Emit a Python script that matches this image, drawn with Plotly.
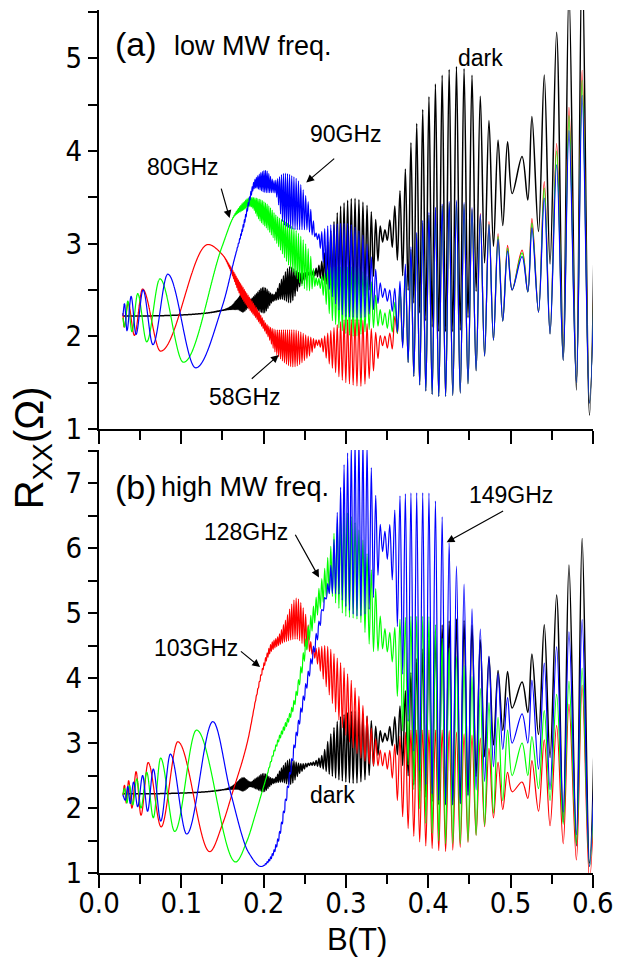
import numpy as np
import plotly.graph_objects as go

# ---------------- data ----------------
# SdH extrema positions (T) read at high field; below the last max the
# oscillation continues with the read period in 1/B.
SDH_MAX_B_HIGH = [0.607, 0.587, 0.571, 0.556, 0.541, 0.526, 0.514, 0.4964]
SDH_MIN_B_HIGH = [0.596, 0.580, 0.564, 0.548, 0.534, 0.521, 0.502]
SDH_PERIOD_INV_B = 0.048   # 1/T, read from the spacing of the SdH peaks
B_START = 0.029

# each curve: B knots, upper envelope, lower envelope (R_xx in Ohm)
DARK_B = [0.029, 0.06, 0.10, 0.13, 0.150, 0.160, 0.168, 0.175, 0.184, 0.190, 0.200, 0.212, 0.222, 0.232, 0.245, 0.258, 0.270, 0.282, 0.295, 0.310, 0.325, 0.337, 0.347, 0.357, 0.367, 0.383, 0.399, 0.415, 0.435, 0.451, 0.465, 0.475, 0.484, 0.4964, 0.502, 0.514, 0.521, 0.526, 0.534, 0.541, 0.549, 0.556, 0.564, 0.571, 0.580, 0.587, 0.596, 0.607]
DARK_UP = [2.22, 2.22, 2.23, 2.25, 2.28, 2.32, 2.40, 2.47, 2.40, 2.45, 2.53, 2.45, 2.62, 2.75, 2.68, 2.70, 2.80, 3.15, 3.42, 3.49, 3.42, 3.25, 3.15, 3.35, 3.61, 4.22, 4.55, 4.80, 4.91, 4.84, 4.55, 4.30, 4.12, 4.10, 3.90, 3.94, 4.10, 4.37, 4.60, 4.82, 5.05, 5.28, 5.50, 5.74, 5.95, 6.15, 6.40, 6.70]
DARK_LO = [2.22, 2.22, 2.23, 2.25, 2.28, 2.29, 2.29, 2.26, 2.33, 2.30, 2.25, 2.38, 2.40, 2.36, 2.55, 2.66, 2.62, 2.50, 2.42, 2.38, 2.45, 2.75, 3.05, 2.95, 2.70, 2.35, 2.15, 2.05, 2.05, 2.25, 2.72, 2.90, 3.05, 3.35, 3.54, 3.50, 3.47, 3.30, 3.13, 2.92, 2.75, 2.30, 1.78, 1.60, 1.42, 1.30, 1.15, 1.00]

F58_B = [0.029, 0.0305, 0.0355, 0.043, 0.0529, 0.0748, 0.1325, 0.150, 0.160, 0.170, 0.180, 0.192, 0.205, 0.216, 0.236, 0.255, 0.266, 0.280, 0.300, 0.318, 0.335, 0.345, 0.355, 0.363, 0.373, 0.383, 0.399, 0.415, 0.435, 0.451, 0.4626, 0.4726, 0.4845, 0.4964, 0.502, 0.514, 0.521, 0.526, 0.534, 0.541, 0.549, 0.556, 0.564, 0.571, 0.580, 0.587, 0.596, 0.607]
F58_UP = [2.25, 2.10, 2.36, 2.01, 2.51, 1.84, 2.99, 2.88, 2.75, 2.60, 2.46, 2.30, 2.12, 2.07, 2.07, 2.00, 1.96, 2.05, 2.18, 2.18, 2.05, 2.00, 2.05, 2.40, 2.75, 3.04, 3.29, 3.40, 3.45, 3.38, 3.33, 3.25, 3.11, 2.98, 2.85, 2.93, 3.05, 3.27, 3.45, 3.67, 3.88, 4.08, 4.28, 4.47, 4.68, 4.87, 5.05, 5.30]
F58_LO = [2.25, 2.10, 2.36, 2.01, 2.51, 1.84, 2.99, 2.88, 2.70, 2.47, 2.32, 2.18, 2.00, 1.80, 1.67, 1.78, 1.90, 1.70, 1.50, 1.46, 1.65, 1.90, 1.85, 2.03, 1.78, 1.56, 1.40, 1.35, 1.37, 1.52, 1.70, 1.85, 2.05, 2.30, 2.50, 2.49, 2.48, 2.40, 2.26, 2.14, 2.01, 1.88, 1.74, 1.62, 1.50, 1.40, 1.28, 1.15]

F80_B = [0.029, 0.031, 0.035, 0.040, 0.047, 0.058, 0.074, 0.1026, 0.150, 0.165, 0.175, 0.184, 0.195, 0.205, 0.216, 0.235, 0.255, 0.265, 0.285, 0.310, 0.330, 0.345, 0.355, 0.363, 0.373, 0.383, 0.399, 0.415, 0.435, 0.451, 0.4626, 0.4726, 0.4845, 0.4964, 0.502, 0.514, 0.521, 0.526, 0.534, 0.541, 0.549, 0.556, 0.564, 0.571, 0.580, 0.587, 0.596, 0.607]
F80_UP = [2.20, 2.10, 2.38, 2.05, 2.46, 1.94, 2.62, 1.72, 2.98, 3.32, 3.44, 3.50, 3.48, 3.42, 3.30, 3.18, 2.93, 2.62, 2.75, 2.75, 2.60, 2.25, 2.30, 2.45, 2.75, 3.04, 3.29, 3.40, 3.45, 3.38, 3.30, 3.22, 3.08, 2.95, 2.82, 2.90, 3.02, 3.22, 3.40, 3.60, 3.80, 4.00, 4.20, 4.38, 4.58, 4.76, 4.95, 5.20]
F80_LO = [2.20, 2.10, 2.38, 2.05, 2.46, 1.94, 2.62, 1.72, 2.98, 3.30, 3.36, 3.40, 3.25, 3.15, 3.00, 2.70, 2.49, 2.55, 2.15, 2.00, 2.08, 2.12, 2.05, 2.03, 1.78, 1.56, 1.40, 1.35, 1.37, 1.52, 1.70, 1.85, 2.05, 2.30, 2.50, 2.49, 2.48, 2.40, 2.26, 2.14, 2.01, 1.88, 1.74, 1.62, 1.50, 1.40, 1.28, 1.15]

F90_B = [0.029, 0.031, 0.034, 0.039, 0.045, 0.0535, 0.0655, 0.0835, 0.1175, 0.150, 0.165, 0.175, 0.190, 0.2025, 0.213, 0.225, 0.240, 0.252, 0.258, 0.265, 0.280, 0.300, 0.320, 0.335, 0.345, 0.355, 0.363, 0.373, 0.383, 0.399, 0.415, 0.435, 0.451, 0.4626, 0.4726, 0.4845, 0.4964, 0.502, 0.514, 0.521, 0.526, 0.534, 0.541, 0.549, 0.556, 0.564, 0.571, 0.580, 0.587, 0.596, 0.607]
F90_UP = [2.22, 2.35, 2.06, 2.43, 2.02, 2.50, 1.91, 2.67, 1.66, 2.33, 2.85, 3.20, 3.70, 3.79, 3.68, 3.76, 3.70, 3.50, 3.35, 3.10, 3.20, 3.22, 3.10, 2.75, 2.53, 2.50, 2.55, 2.80, 3.06, 3.32, 3.42, 3.47, 3.40, 3.32, 3.22, 3.05, 2.92, 2.80, 2.86, 2.98, 3.17, 3.33, 3.49, 3.67, 3.85, 4.03, 4.22, 4.42, 4.60, 4.80, 5.05]
F90_LO = [2.22, 2.35, 2.06, 2.43, 2.02, 2.50, 1.91, 2.67, 1.66, 2.33, 2.85, 3.15, 3.60, 3.55, 3.55, 3.20, 3.15, 3.15, 3.10, 3.05, 2.50, 2.21, 2.20, 2.30, 2.42, 2.30, 2.03, 1.78, 1.56, 1.40, 1.35, 1.37, 1.52, 1.70, 1.85, 2.05, 2.30, 2.50, 2.49, 2.48, 2.40, 2.26, 2.14, 2.01, 1.88, 1.74, 1.62, 1.50, 1.40, 1.28, 1.15]

F103_B = [0.029, 0.031, 0.033, 0.036, 0.040, 0.045, 0.051, 0.0597, 0.0755, 0.0958, 0.1345, 0.150, 0.162, 0.180, 0.192, 0.200, 0.210, 0.218, 0.225, 0.240, 0.252, 0.260, 0.275, 0.290, 0.305, 0.320, 0.335, 0.345, 0.355, 0.365, 0.380, 0.400, 0.420, 0.440, 0.460, 0.475, 0.490, 0.4964, 0.502, 0.514, 0.521, 0.526, 0.534, 0.541, 0.549, 0.556, 0.564, 0.571, 0.580, 0.587, 0.596, 0.607]
F103_UP = [2.20, 2.35, 2.08, 2.42, 2.00, 2.56, 1.89, 2.70, 1.71, 3.02, 1.33, 1.75, 2.23, 3.00, 3.78, 4.22, 4.55, 4.65, 4.85, 5.23, 4.95, 4.45, 4.50, 4.30, 4.00, 3.60, 3.10, 2.85, 2.90, 3.10, 3.20, 3.20, 3.20, 3.15, 3.10, 2.90, 2.62, 2.55, 2.42, 2.40, 2.55, 2.73, 2.90, 3.05, 3.18, 3.27, 3.42, 3.60, 3.75, 3.89, 4.00, 4.30]
F103_LO = [2.20, 2.35, 2.08, 2.42, 2.00, 2.56, 1.89, 2.70, 1.71, 3.02, 1.33, 1.75, 2.23, 3.00, 3.75, 4.15, 4.42, 4.50, 4.55, 4.60, 4.45, 4.35, 3.90, 3.40, 3.00, 2.75, 2.65, 2.65, 2.50, 2.00, 1.60, 1.40, 1.33, 1.40, 1.60, 1.80, 1.97, 2.10, 2.25, 2.20, 2.15, 2.05, 1.95, 1.85, 1.71, 1.60, 1.45, 1.30, 1.20, 1.05, 0.90, 0.80]

F128_B = [0.029, 0.031, 0.034, 0.037, 0.041, 0.046, 0.051, 0.058, 0.066, 0.0748, 0.092, 0.1185, 0.166, 0.180, 0.190, 0.200, 0.215, 0.236, 0.256, 0.270, 0.280, 0.290, 0.300, 0.315, 0.335, 0.345, 0.355, 0.365, 0.380, 0.400, 0.420, 0.440, 0.460, 0.475, 0.490, 0.4964, 0.502, 0.514, 0.521, 0.526, 0.534, 0.541, 0.549, 0.556, 0.564, 0.571, 0.580, 0.587, 0.596, 0.607]
F128_UP = [2.20, 2.30, 2.08, 2.35, 2.05, 2.45, 2.00, 2.55, 1.85, 2.77, 1.64, 3.20, 1.17, 1.50, 1.90, 2.33, 2.98, 3.62, 4.90, 5.50, 5.95, 6.40, 6.55, 6.30, 5.45, 4.80, 4.70, 4.90, 4.95, 4.95, 4.55, 4.25, 3.90, 3.60, 3.30, 3.20, 3.05, 3.00, 3.05, 3.10, 3.30, 3.50, 3.62, 3.75, 3.85, 3.95, 4.05, 4.15, 4.25, 4.50]
F128_LO = [2.20, 2.30, 2.08, 2.35, 2.05, 2.45, 2.00, 2.55, 1.85, 2.77, 1.64, 3.20, 1.17, 1.50, 1.90, 2.33, 2.92, 3.50, 4.60, 5.10, 5.30, 5.10, 4.95, 4.90, 4.40, 4.45, 4.30, 3.50, 2.40, 1.70, 1.45, 1.45, 1.60, 1.85, 2.10, 2.30, 2.50, 2.55, 2.50, 2.45, 2.30, 2.20, 2.10, 1.90, 1.75, 1.60, 1.45, 1.35, 1.10, 0.90]

F149_B = [0.029, 0.032, 0.035, 0.038, 0.042, 0.047, 0.053, 0.059, 0.066, 0.075, 0.0867, 0.1066, 0.1384, 0.160, 0.182, 0.197, 0.207, 0.216, 0.240, 0.264, 0.280, 0.290, 0.300, 0.315, 0.325, 0.335, 0.345, 0.355, 0.365, 0.380, 0.400, 0.415, 0.425, 0.435, 0.445, 0.455, 0.465, 0.475, 0.485, 0.4964, 0.502, 0.514, 0.521, 0.526, 0.541, 0.556, 0.571, 0.587, 0.596, 0.607]
F149_UP = [2.20, 2.12, 2.33, 2.07, 2.40, 2.02, 2.50, 1.95, 2.60, 1.80, 2.83, 1.60, 3.33, 2.23, 1.31, 1.10, 1.22, 1.48, 3.20, 4.70, 5.60, 6.60, 7.40, 7.70, 7.60, 6.90, 6.25, 6.40, 6.80, 6.85, 6.85, 6.55, 6.10, 5.70, 5.40, 5.00, 4.70, 4.30, 4.07, 3.70, 3.50, 3.45, 3.70, 3.97, 4.23, 4.48, 4.71, 4.90, 5.00, 5.30]
F149_LO = [2.20, 2.12, 2.33, 2.07, 2.40, 2.02, 2.50, 1.95, 2.60, 1.80, 2.83, 1.60, 3.33, 2.23, 1.31, 1.10, 1.18, 1.40, 3.05, 4.50, 5.30, 5.30, 5.10, 4.95, 5.00, 5.30, 5.95, 5.60, 4.50, 3.00, 2.30, 2.10, 2.05, 2.05, 2.15, 2.25, 2.35, 2.55, 2.75, 3.00, 3.00, 3.10, 3.00, 2.80, 2.45, 2.10, 1.80, 1.40, 1.10, 0.90]

X_TICKS = [0.0, 0.1, 0.2, 0.3, 0.4, 0.5, 0.6]
YA_TICKS = [1, 2, 3, 4, 5]
YB_TICKS = [1, 2, 3, 4, 5, 6, 7]


# ---------------- helpers ----------------
def pchip(xk, yk, x):
    xk = np.asarray(xk, float)
    yk = np.asarray(yk, float)
    h = np.diff(xk)
    delta = np.diff(yk) / h
    n = len(xk)
    d = np.zeros(n)
    for i in range(1, n - 1):
        if delta[i - 1] * delta[i] > 0:
            w1 = 2 * h[i] + h[i - 1]
            w2 = h[i] + 2 * h[i - 1]
            d[i] = (w1 + w2) / (w1 / delta[i - 1] + w2 / delta[i])
    d[0] = delta[0]
    d[-1] = delta[-1]
    idx = np.clip(np.searchsorted(xk, x) - 1, 0, n - 2)
    t = (x - xk[idx]) / h[idx]
    h00 = 2 * t**3 - 3 * t**2 + 1
    h10 = t**3 - 2 * t**2 + t
    h01 = -2 * t**3 + 3 * t**2
    h11 = t**3 - t**2
    return h00 * yk[idx] + h10 * h[idx] * d[idx] + h01 * yk[idx + 1] + h11 * h[idx] * d[idx + 1]


def sdh_extrema():
    u0 = 1.0 / SDH_MAX_B_HIGH[-1]
    n = int((1.0 / B_START - u0) / SDH_PERIOD_INV_B) + 2
    k = np.arange(1, n)
    mx = 1.0 / (u0 + k * SDH_PERIOD_INV_B)
    mn = 1.0 / (u0 + (k - 0.5) * SDH_PERIOD_INV_B)
    xs = np.concatenate([SDH_MAX_B_HIGH, SDH_MIN_B_HIGH, mx, mn])
    flag = np.concatenate([np.ones(len(SDH_MAX_B_HIGH)), np.zeros(len(SDH_MIN_B_HIGH)),
                           np.ones(len(mx)), np.zeros(len(mn))]).astype(bool)
    o = np.argsort(xs)
    return xs[o], flag[o]


EXT_B, EXT_MAX = sdh_extrema()


def curve(bk, up, lo):
    sel = (EXT_B >= bk[0]) & (EXT_B <= bk[-1])
    x = EXT_B[sel]
    m = EXT_MAX[sel]
    y = np.where(m, pchip(bk, up, x), pchip(bk, lo, x))
    x = np.concatenate([[bk[0]], x])
    y = np.concatenate([[up[0]], y])
    return x, y


fig = go.Figure()

panels = [
    ("x", "y", [(DARK_B, DARK_UP, DARK_LO, "black", 1.5),
                (F58_B, F58_UP, F58_LO, "#ff0000", 1.2),
                (F80_B, F80_UP, F80_LO, "#00ff00", 1.2),
                (F90_B, F90_UP, F90_LO, "#0000ff", 1.2)]),
    ("x2", "y2", [(DARK_B, DARK_UP, DARK_LO, "black", 1.5),
                  (F103_B, F103_UP, F103_LO, "#ff0000", 1.2),
                  (F128_B, F128_UP, F128_LO, "#00ff00", 1.2),
                  (F149_B, F149_UP, F149_LO, "#0000ff", 1.2)]),
]
for xa, ya, curves in panels:
    for bk, up, lo, col, w in curves:
        x, y = curve(bk, up, lo)
        fig.add_trace(go.Scatter(x=x, y=y, mode="lines", xaxis=xa, yaxis=ya,
                                 line=dict(color=col, width=w, shape="spline", smoothing=1.0),
                                 hoverinfo="skip", showlegend=False))

TICK_FONT = dict(family="Liberation Sans Narrow, Arial Narrow, DejaVu Sans Condensed, Liberation Sans, Arial",
                 size=29, color="black")
TEXT_FONT = "Liberation Sans, Arial, sans-serif"

TOP_DOM = [0.5145, 1.0]
BOT_DOM = [0.0, 0.4901]
XR = [0.0, 0.6002]
YA_R = [1.0, 5.52]
YB_R = [1.0, 7.51]


def main_x(anchor, labels):
    return dict(domain=[0, 1], range=XR, anchor=anchor, tickvals=X_TICKS,
                ticktext=[f"{v:.1f}" for v in X_TICKS] if labels else None,
                showticklabels=labels, ticks="outside", ticklen=13, tickwidth=1.5,
                ticklabelstandoff=-10,
                tickcolor="black", minor=dict(ticks="outside", ticklen=9, dtick=0.05, tickwidth=1.5,
                                              tickcolor="black"),
                showline=True, linewidth=2, linecolor="black", showgrid=False, zeroline=False,
                tickfont=TICK_FONT)


def main_y(anchor, dom, rng, ticks):
    return dict(domain=dom, range=rng, anchor=anchor, tickvals=ticks, ticks="outside", ticklen=9,
                tickwidth=1.5, tickcolor="black",
                minor=dict(ticks="outside", ticklen=9, dtick=0.5, tickwidth=1.5, tickcolor="black"),
                showline=True, linewidth=2, linecolor="black", showgrid=False, zeroline=False,
                tickfont=TICK_FONT)


def over_x(over, anchor):
    return dict(overlaying=over, anchor=anchor, range=XR, tickvals=X_TICKS, showticklabels=False,
                ticks="inside", ticklen=7, tickwidth=1.5, tickcolor="black", mirror="allticks",
                minor=dict(ticks="inside", ticklen=7, dtick=0.05, tickwidth=1.5, tickcolor="black"),
                showline=True, linewidth=2, linecolor="black", showgrid=False, zeroline=False)


def over_y(over, anchor, rng, ticks):
    return dict(overlaying=over, anchor=anchor, range=rng, tickvals=ticks, showticklabels=False,
                ticks="inside", ticklen=7, tickwidth=1.5, tickcolor="black", mirror="allticks",
                minor=dict(ticks="inside", ticklen=7, dtick=0.5, tickwidth=1.5, tickcolor="black"),
                showline=True, linewidth=2, linecolor="black", showgrid=False, zeroline=False)


fig.update_layout(
    width=624, height=958,
    margin=dict(l=99, r=22, t=10, b=85),
    paper_bgcolor="white", plot_bgcolor="white",
    xaxis=main_x("y", False),
    yaxis=main_y("x", TOP_DOM, YA_R, YA_TICKS),
    xaxis2=main_x("y2", True),
    yaxis2=main_y("x2", BOT_DOM, YB_R, YB_TICKS),
    xaxis3=over_x("x", "y"),
    yaxis3=over_y("y", "x", YA_R, YA_TICKS),
    xaxis4=over_x("x2", "y2"),
    yaxis4=over_y("y2", "x2", YB_R, YB_TICKS),
)


def txt(text, x, y, xr, yr, size, xanchor="center"):
    fig.add_annotation(text=text, x=x, y=y, xref=xr, yref=yr, showarrow=False,
                       xanchor=xanchor, yanchor="middle", font=dict(family=TEXT_FONT, size=size, color="black"))


def arrow(xr, yr, head, tail):
    fig.add_annotation(text="", x=head[0], y=head[1], ax=tail[0], ay=tail[1], xref=xr, yref=yr,
                       axref=xr, ayref=yr, showarrow=True, arrowhead=2, arrowsize=1.3,
                       arrowwidth=1.2, arrowcolor="black")


# panel (a)
txt("(a)", 0.0167, 5.15, "x", "y", 34, "left")
txt("low MW freq.", 0.0883, 5.13, "x", "y", 27, "left")
txt("80GHz", 0.1026, 3.825, "x", "y", 23)
arrow("x", "y", (0.1587, 3.275), (0.148, 3.61))
txt("90GHz", 0.3007, 4.18, "x", "y", 23)
arrow("x", "y", (0.2518, 3.66), (0.2876, 3.93))
txt("58GHz", 0.1778, 1.345, "x", "y", 23)
arrow("x", "y", (0.2184, 1.798), (0.1838, 1.528))
txt("dark", 0.464, 5.0, "x", "y", 23)

# panel (b)
txt("(b)", 0.0167, 6.94, "x2", "y2", 34, "left")
txt("high MW freq.", 0.0728, 6.94, "x2", "y2", 27, "left")
txt("128GHz", 0.179, 6.246, "x2", "y2", 23)
arrow("x2", "y2", (0.2673, 5.55), (0.2375, 6.23))
txt("103GHz", 0.118, 4.46, "x2", "y2", 23)
arrow("x2", "y2", (0.1957, 4.17), (0.1706, 4.43))
txt("149GHz", 0.50, 6.815, "x2", "y2", 23)
arrow("x2", "y2", (0.4224, 6.09), (0.4928, 6.585))
txt("dark", 0.284, 2.2, "x2", "y2", 23)

# axis titles
fig.add_annotation(text="R<sub>XX</sub>(Ω)", x=-0.135, y=0.4925, xref="paper", yref="paper",
                   showarrow=False, textangle=-90, xanchor="center", yanchor="middle",
                   font=dict(family=TEXT_FONT, size=40, color="black"))
fig.add_annotation(text="B(T)", x=0.523, y=-0.0985, xref="paper", yref="paper",
                   showarrow=False, xanchor="center", yanchor="bottom", borderpad=0,
                   font=dict(family=TEXT_FONT, size=31, color="black"))

fig.write_html(
    "out.html",
    config={"displayModeBar": False},
    post_script="document.body.style.margin='0';document.body.style.padding='0';"
                "document.documentElement.style.overflow='hidden';",
)
